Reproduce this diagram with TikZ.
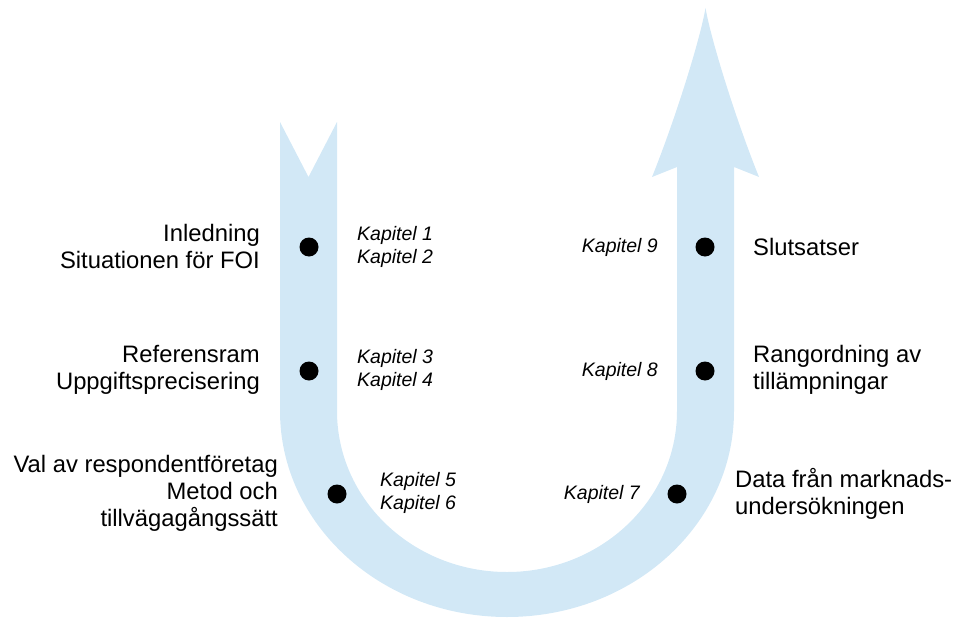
\documentclass[tikz,border=0pt]{standalone}
\usepackage{fontspec}
\setmainfont{Liberation Sans}
\definecolor{bandblue}{RGB}{210,232,246}
\tikzset{
  band/.style={fill=bandblue, draw=none},
  stepdot/.style={circle, fill=black, inner sep=0pt, minimum size=19pt},
  topic/.style={inner sep=0pt, font=\fontsize{23.8}{27}\selectfont},
  chapter/.style={inner sep=0pt, font=\fontsize{19.5}{23.5}\selectfont\itshape},
}
\begin{document}
\begin{tikzpicture}[x=1pt,y=1pt]
\useasboundingbox (0,0) rectangle (953,-618);

% U-shaped arrow: notched tail on the left, head on the right
\path[band]
  (280,-122) -- (308.5,-177) -- (337,-122)
  -- (337,-411)
  arc[start angle=180, end angle=360, x radius=170, y radius=161]
  -- (677,-167) -- (652,-177)
  .. controls (675,-120) and (700,-40) .. (705.5,-8)
  .. controls (711,-40) and (736,-120) .. (759,-177)
  -- (734,-167) -- (734,-411)
  arc[start angle=0, end angle=-180, x radius=227, y radius=206]
  -- cycle;

% dots on the band
\node[stepdot] (d1) at (309,-247) {};
\node[stepdot] (d2) at (309,-371) {};
\node[stepdot] (d3) at (337,-494) {};
\node[stepdot] (d4) at (677,-494) {};
\node[stepdot] (d5) at (705,-371) {};
\node[stepdot] (d6) at (705,-247) {};

% topics, left side
\node[topic, anchor=east, align=right] (t1) at (260,-246) {Inledning\\Situationen för FOI};
\node[topic, anchor=east, align=right] (t2) at (260,-370) {Referensram\\Uppgiftsprecisering};
\node[topic, anchor=east, align=right] (t3) at (278,-493) {Val av respondentföretag\\Metod och\\tillvägagångssätt};

% chapters, left side
\node[chapter, anchor=west, align=left] (k1) at (357,-247) {Kapitel 1\\Kapitel 2};
\node[chapter, anchor=west, align=left] (k2) at (357,-370) {Kapitel 3\\Kapitel 4};
\node[chapter, anchor=west, align=left] (k3) at (380,-493) {Kapitel 5\\Kapitel 6};

% chapters, right side
\node[chapter, anchor=east] (k4) at (640,-494) {Kapitel 7};
\node[chapter, anchor=east] (k5) at (658,-371) {Kapitel 8};
\node[chapter, anchor=east] (k6) at (658,-247) {Kapitel 9};

% topics, right side
\node[topic, anchor=west, align=left] (t4) at (735,-494) {Data från marknads-\\undersökningen};
\node[topic, anchor=west, align=left] (t5) at (753,-370) {Rangordning av\\tillämpningar};
\node[topic, anchor=west] (t6) at (753,-247) {Slutsatser};
\end{tikzpicture}
\end{document}
